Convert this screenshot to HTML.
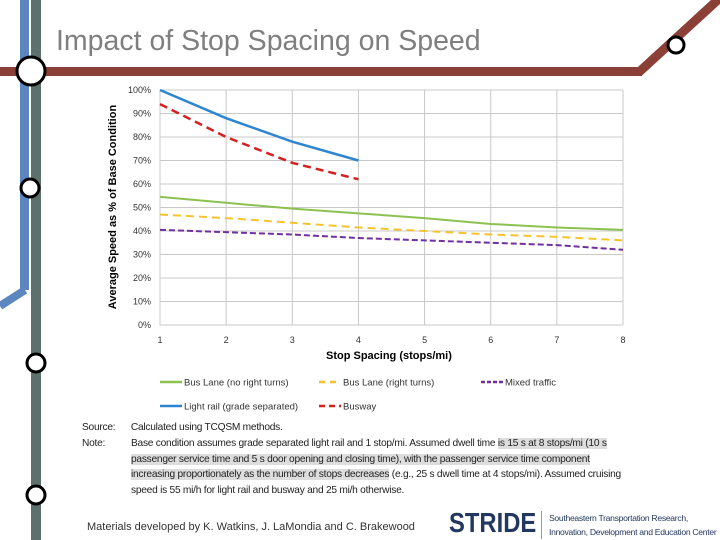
<!DOCTYPE html>
<html><head><meta charset="utf-8"><style>
body{margin:0;width:720px;height:540px;overflow:hidden;background:#fff;font-family:"Liberation Sans",sans-serif;position:relative}
.t{position:absolute;white-space:nowrap}
</style></head><body>
<svg width="720" height="540" style="position:absolute;left:0;top:0">
<rect x="20" y="0" width="9" height="290" fill="#5b86c0"/>
<line x1="25" y1="290" x2="0" y2="306" stroke="#5b86c0" stroke-width="8"/>
<rect x="31" y="0" width="10" height="540" fill="#5d716c"/>
<rect x="0" y="67" width="642" height="9" fill="#8a3f37"/>
<line x1="638" y1="73" x2="722" y2="-4" stroke="#8a3f37" stroke-width="9"/>
<circle cx="31" cy="71" r="14" fill="#fff" stroke="#000" stroke-width="3"/>
<circle cx="30" cy="188" r="9" fill="#fff" stroke="#000" stroke-width="3"/>
<circle cx="36" cy="363" r="9" fill="#fff" stroke="#000" stroke-width="3"/>
<circle cx="36" cy="495" r="9" fill="#fff" stroke="#000" stroke-width="3"/>
<circle cx="676" cy="45" r="8" fill="#fff" stroke="#000" stroke-width="3"/>
</svg>
<div class="t" style="left:56px;top:25px;font-size:28.5px;color:#7f7f7f;letter-spacing:0">Impact of Stop Spacing on Speed</div>
<svg id="chart" width="720" height="540" style="position:absolute;left:0;top:0"></svg>
<div class="t" style="left:326px;top:350px;font-size:11px;font-weight:bold">Stop Spacing (stops/mi)</div>
<div class="t" style="left:113px;top:207px;font-size:11px;font-weight:bold;transform:translate(-50%,-50%) rotate(-90deg)">Average Speed as % of Base Condition</div>
<div style="position:absolute;left:82px;top:420px;font-size:10.2px;line-height:15.8px;color:#222;letter-spacing:-0.25px">
<div class="t" style="position:relative">Source:&nbsp;&nbsp;&nbsp;&nbsp;&nbsp;&nbsp;Calculated using TCQSM methods.</div>
<div style="display:flex"><div style="width:49px">Note:</div><div style="width:490px">Base condition assumes grade separated light rail and 1 stop/mi. Assumed dwell time <span style="background:#ddd">is 15 s at 8 stops/mi (10 s passenger service time and 5 s door opening and closing time), with the passenger service time component increasing proportionately as the number of stops decreases</span> (e.g., 25 s dwell time at 4 stops/mi). Assumed cruising speed is 55 mi/h for light rail and busway and 25 mi/h otherwise.</div></div>
</div>
<div class="t" style="left:87px;top:521px;font-size:11px;color:#333">Materials developed by K. Watkins, J. LaMondia and C. Brakewood</div>
<div class="t" style="left:449px;top:507px;font-size:28px;font-weight:bold;color:#23385f;transform:scaleX(0.85);transform-origin:left">STRIDE</div>
<div style="position:absolute;left:541px;top:511px;width:1px;height:28px;background:#999"></div>
<div class="t" style="left:549px;top:511px;font-size:8.6px;line-height:14px;color:#23385f;letter-spacing:-0.3px">Southeastern Transportation Research,<br>Innovation, Development and Education Center</div>
<script>
const xCats=[1,2,3,4,5,6,7,8];
const yTicks=[0,10,20,30,40,50,60,70,80,90,100];
const busLaneNoRight=[54.5,52,49.5,47.5,45.5,43,41.5,40.5];
const busLaneRight=[47,45.5,43.5,41.5,40,38.5,37.5,36];
const mixedTraffic=[40.5,39.5,38.5,37,36,35,34,32];
const lightRail=[100,88,78,70];
const busway=[94,80,69,62];
const svg=document.getElementById('chart');const NS='http://www.w3.org/2000/svg';
const X=v=>160+(v-1)*(623-160)/7, Y=v=>325-v*(325-90)/100;
function mk(t,a,p){const e=document.createElementNS(NS,t);for(const k in a)e.setAttribute(k,a[k]);(p||svg).appendChild(e);return e;}
yTicks.forEach(v=>{const l=mk('line',{x1:160,x2:623,y1:Y(v),y2:Y(v),stroke:'#c8c8c8','stroke-width':1});


const t=mk('text',{x:151,y:Y(v)+3,'text-anchor':'end','font-size':9,fill:'#333','font-family':'Liberation Sans'});t.textContent=v+'%';

});
xCats.forEach(v=>{const l=mk('line',{x1:X(v),x2:X(v),y1:90,y2:325,stroke:'#c8c8c8','stroke-width':1});


const t=mk('text',{x:X(v),y:343,'text-anchor':'middle','font-size':9,fill:'#333','font-family':'Liberation Sans'});t.textContent=v;

});
const series=[[busLaneNoRight,'#8cc152','','series-bus-lane-no-right-turns',2],[busLaneRight,'#f4c430','8,5','series-bus-lane-right-turns',2],[mixedTraffic,'#7030a0','6,3','series-mixed-traffic',2],[lightRail,'#2e86d0','','series-light-rail',2.5],[busway,'#d42020','8,5','series-busway',2.5]];
series.forEach(s=>{const p=mk('polyline',{points:s[0].map((v,i)=>X(xCats[i])+','+Y(v)).join(' '),fill:'none',stroke:s[1],'stroke-width':s[4],'stroke-dasharray':s[2]});

});
const leg=[[160,382,'#8cc152','','Bus Lane (no right turns)'],[319,382,'#f4c430','6,5','Bus Lane (right turns)'],[481,382,'#7030a0','4,2','Mixed traffic'],[160,406,'#2e86d0','','Light rail (grade separated)'],[319,406,'#d42020','6,4','Busway']];
leg.forEach(l=>{const g=mk('g',{});


mk('line',{x1:l[0],x2:l[0]+22,y1:l[1],y2:l[1],stroke:l[2],'stroke-width':2.5,'stroke-dasharray':l[3]},g);
const t=mk('text',{x:l[0]+24,y:l[1]+3.5,'font-size':9.5,fill:'#333','font-family':'Liberation Sans'},g);t.textContent=l[4];});
</script>
</body></html>
